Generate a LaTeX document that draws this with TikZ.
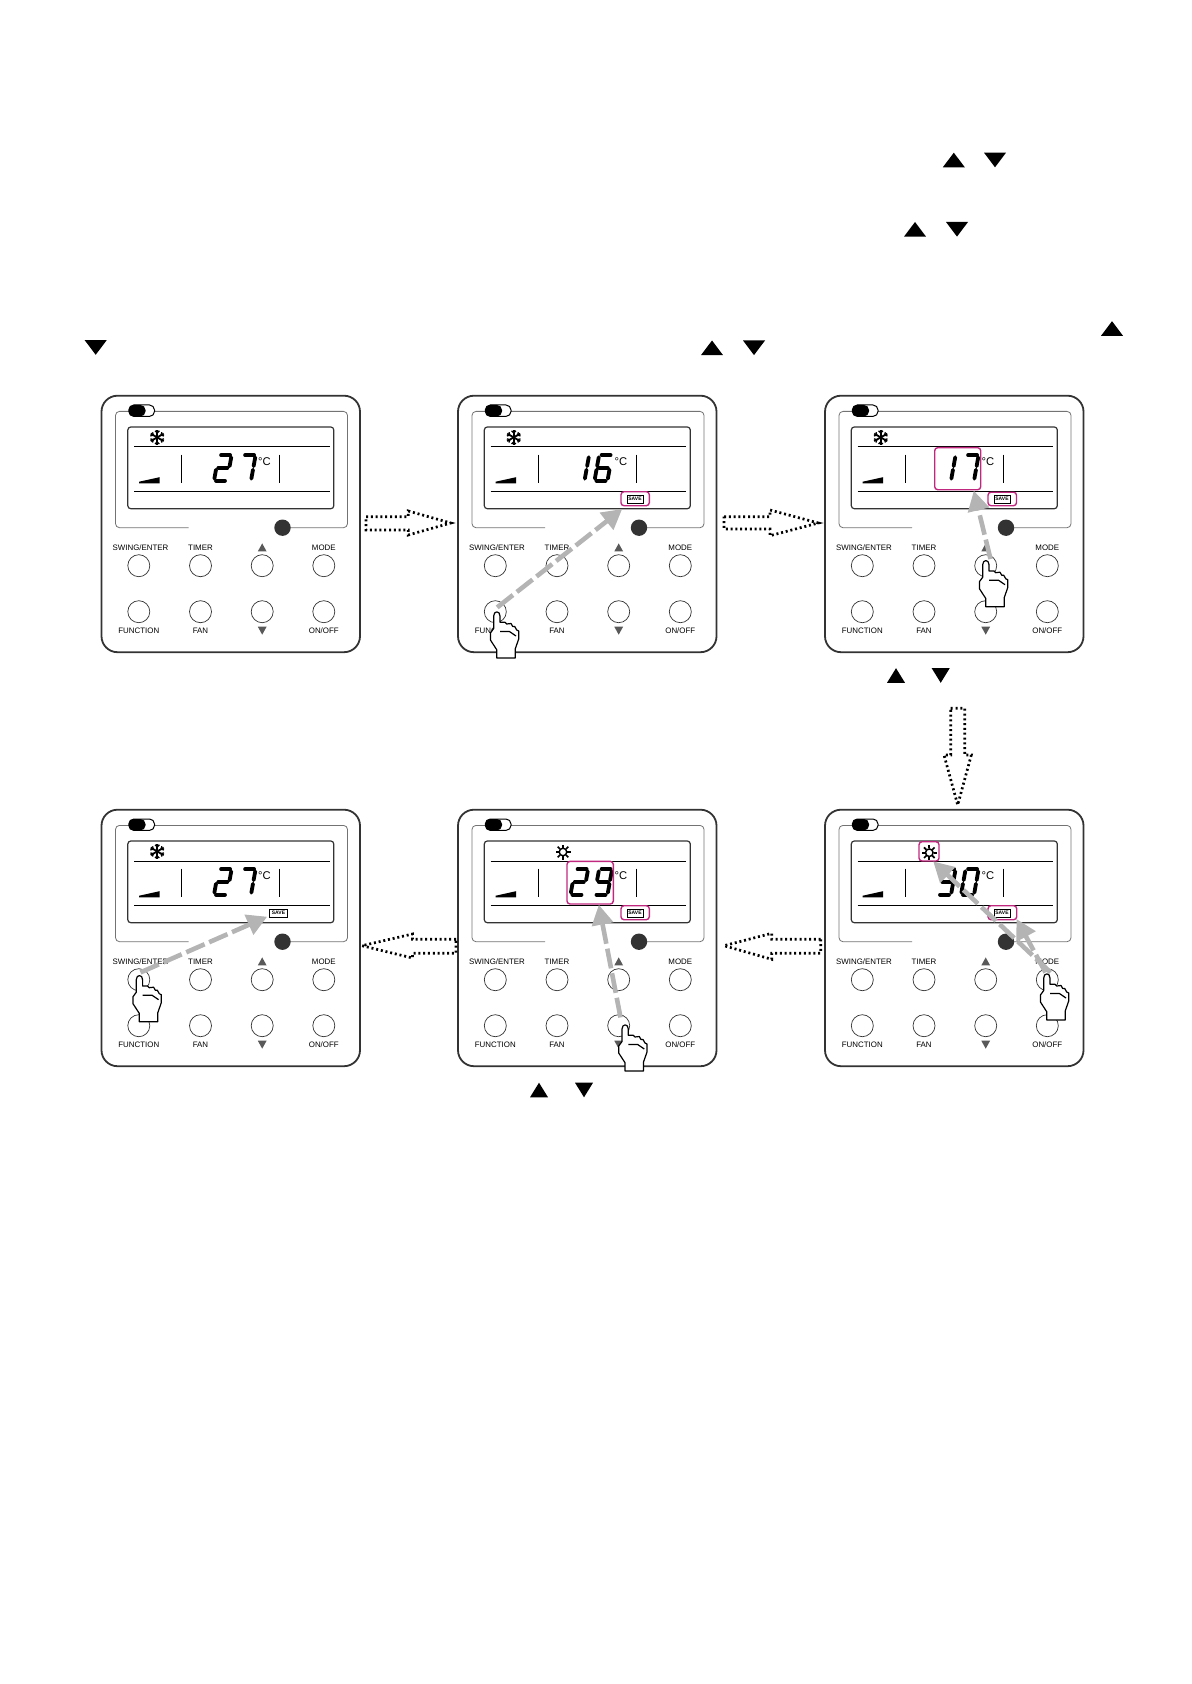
\documentclass[tikz,border=0pt]{standalone}
\usepackage{fontspec}
\setmainfont{Liberation Sans}
\usetikzlibrary{arrows.meta}
\definecolor{pinkbox}{HTML}{C0287F}
\definecolor{greyarrow}{HTML}{B4B4B4}
\definecolor{panelline}{HTML}{333333}
\tikzset{
  btn/.style={draw=panelline,line width=.35pt,fill=white,circle,inner sep=0pt,minimum size=11pt},
  btnlabel/.style={inner sep=0pt,font=\fontsize{3.95}{5}\selectfont,text=black},
  markgrey/.style={fill=black!65,draw=none},
  lcdseg/.style={line width=1.9pt,line cap=round},
  sega/.style={insert path={(2.5,-25.5)--(11.5,-25.5)}},
  segb/.style={insert path={(13,-23.5)--(13,-14.5)}},
  segc/.style={insert path={(13,-11)--(13,-2)}},
  segd/.style={insert path={(2,0)--(11,0)}},
  sege/.style={insert path={(0,-11)--(0,-2)}},
  segf/.style={insert path={(0,-23.5)--(0,-14.5)}},
  segg/.style={insert path={(2,-12.75)--(11,-12.75)}},
  pinkframe/.style={draw=pinkbox,line width=.7pt,rounded corners=1.5pt},
  savebox/.style={draw=black,line width=.35pt,inner sep=0pt,minimum width=8pt,minimum height=4pt,
    fill=white,font=\fontsize{2.5}{3}\selectfont\bfseries},
  celsius/.style={inner sep=0pt,font=\fontsize{5.6}{6}\selectfont},
  dotarrow/.style={draw=black,line width=1.35pt,dash pattern=on 1pt off 1.4pt},
  pressarrow/.style={draw=greyarrow,line width=2.3pt,dash pattern=on 10pt off 2.5pt,
    -{Triangle[length=10pt,width=10.5pt,fill=greyarrow]}},
  panel/.pic={
    % case and frame
    \draw[panelline,line width=.9pt,rounded corners=8pt] (0,0) rectangle (258.5,256.5);
    \draw[black!55,line width=.4pt,rounded corners=2pt] (53,15.7) -- (246,15.7) -- (246,132) -- (181,132);
    \draw[black!55,line width=.4pt,rounded corners=2pt] (27.3,15.7) -- (14,15.7) -- (14,132) -- (87,132);
    \draw[black,line width=.5pt,fill=white,rounded corners=2.5pt] (27.3,9.3) rectangle (53,20.7);
    \fill[black,rounded corners=2.5pt] (27.3,9.3) rectangle (44,20.7);
    \fill[panelline] (181,132) circle (4.1pt);
    % display
    \draw[panelline,line width=.6pt,rounded corners=1.5pt] (26.3,31.3) rectangle (232.3,113);
    \draw[line width=.5pt] (32.5,51.3) -- (228,51.3);
    \draw[line width=.5pt] (32.5,95.3) -- (228,95.3);
    \draw[line width=.5pt] (80.3,59) -- (80.3,87.7);
    \draw[line width=.5pt] (178.3,59) -- (178.3,87.7);
    \fill (37.7,87.7) -- (37.7,86) -- (58,81.5) -- (58,87.7) -- cycle;
    \node[celsius] (deg) at (163,65.5) {°C};
    % buttons
    \foreach \i/\x/\lx/\toptext/\bottext in {1/37.3/39/SWING\slash ENTER/FUNCTION,2/99/99/TIMER/FAN,3/160.7/160.7//,4/222.3/222.3/MODE/ON\slash OFF} {
      \node[btn] (top\i) at (\x,170) {};
      \node[btn] (bot\i) at (\x,216) {};
      \node[btnlabel] (toplab\i) at (\lx,151.7) {\toptext};
      \node[btnlabel] (botlab\i) at (\x,235) {\bottext};
    }
    \fill[markgrey] (156.3,155.7) -- (165.1,155.7) -- (160.7,147.7) -- cycle;
    \fill[markgrey] (156.3,231) -- (165.1,231) -- (160.7,239) -- cycle;
  },
  hand/.pic={
    \draw[black,line width=.6pt,fill=white,line join=round]
      (-3,4) .. controls (-3,-1.5) and (3.3,-1.5) .. (3.3,4) -- (3.3,10.3) -- (8.3,10.3)
      -- (10,12) -- (14.3,11.5) -- (16,14.5) -- (18,14.5) -- (20,18) -- (22,19) -- (22,27)
      -- (18.5,37) -- (18.5,46) -- (0,46) -- (0,37.7) -- (-6.3,28) -- (-6.3,21) -- (-3,16.5) -- cycle;
    \draw[black,line width=.6pt] (3.3,19.5) -- (12.7,19.5) -- (19.3,24);
  },
}
\newcommand{\lcddigit}[3]{%
  \begin{scope}[shift={(#1,#2)},xslant=.18]
    \foreach \s in {#3} {\draw[lcdseg,seg\s];}
  \end{scope}}
\newcommand{\snowicon}[2]{%
  \begin{scope}[shift={(#1,#2)}]
    \foreach \a in {30,90,150,210,270,330} {
      \draw[line width=.9pt] (0,0) -- (\a:7.5);
      \draw[line width=.65pt] (\a:4.5) -- ++(\a+45:3);
      \draw[line width=.65pt] (\a:4.5) -- ++(\a-45:3);
    }
  \end{scope}}
\newcommand{\sunicon}[2]{%
  \begin{scope}[shift={(#1,#2)}]
    \draw[line width=.75pt] (0,0) circle (1.9pt);
    \foreach \a in {0,45,...,315} {\draw[line width=.85pt] (\a:4.3) -- (\a:7.5);}
  \end{scope}}
\newcommand{\upmark}[3][11]{\fill (#2,#3) ++(-#1,7.3) -- ++(2*#1,0) -- ++(-#1,-14.6) -- cycle;}
\newcommand{\downmark}[3][11]{\fill (#2,#3) ++(-#1,-7.3) -- ++(2*#1,0) -- ++(-#1,14.6) -- cycle;}
\begin{document}
\begin{tikzpicture}[x=.5pt,y=-.5pt]
  \useasboundingbox (0,0) rectangle (1191,1684);
  % marks in the text
  \upmark{953.8}{160} \downmark{995}{160}
  \upmark{915}{229.3} \downmark{957}{229.3}
  \upmark{1112}{328.5}
  \downmark{95.7}{347.5} \upmark{712}{347.8} \downmark{754}{347.8}
  \upmark[9]{896}{675.5} \downmark[9]{940.7}{675.5}
  \upmark[9]{539}{1090} \downmark[9]{584}{1090}

  % first row
  \pic (pa) at (101.5,395.7) {panel};
  \begin{scope}[shift={(101.5,395.7)}]
    \snowicon{55.7}{41.7}
    \lcddigit{112.5}{85}{a,b,g,e,d}
    \lcddigit{136.5}{85}{a,b,c}
  \end{scope}

  \pic (pb) at (458,395.7) {panel};
  \begin{scope}[shift={(458,395.7)}]
    \snowicon{55.7}{41.7}
    \lcddigit{113.5}{85}{b,c}
    \lcddigit{136.5}{85}{a,f,g,e,c,d}
    \node[savebox] (saveb) at (177,103.3) {SAVE};
    \draw[pinkframe] (163,96) rectangle (191.3,110);
    \coordinate (pbfrom) at (39.2,211.7);
    \coordinate (pbto) at (164.2,113.3);
  \end{scope}

  \pic (pc) at (825,395.7) {panel};
  \begin{scope}[shift={(825,395.7)}]
    \snowicon{55.7}{41.7}
    \lcddigit{113}{85}{b,c}
    \lcddigit{136}{85}{a,b,c}
    \draw[pinkframe] (109.7,52) rectangle (155.7,94);
    \node[savebox] (savec) at (177,103.3) {SAVE};
    \draw[pinkframe] (163,96.5) rectangle (191.5,110);
    \coordinate (pcfrom) at (165.5,163.3);
    \coordinate (pcto) at (148.8,95);
  \end{scope}

  % second row
  \pic (pf) at (825,809.7) {panel};
  \begin{scope}[shift={(825,809.7)}]
    \sunicon{104.3}{43}
    \lcddigit{113}{85}{a,b,c,d,g}
    \lcddigit{136}{85}{a,b,c,d,e,f}
    \draw[pinkframe] (94,32) rectangle (114,51.3);
    \node[savebox] (savef) at (177,103.3) {SAVE};
    \draw[pinkframe] (163,96) rectangle (191.7,110);
    \coordinate (pffrom) at (225.5,162.7);
    \coordinate (pfsun) at (108.2,51.7);
    \coordinate (pfalt) at (220.5,162.7);
    \coordinate (pfsave) at (191.5,109.3);
  \end{scope}

  \pic (pe) at (458,809.7) {panel};
  \begin{scope}[shift={(458,809.7)}]
    \sunicon{105}{42.3}
    \lcddigit{112.5}{85}{a,b,g,e,d}
    \lcddigit{136.5}{85}{a,b,c,d,f,g}
    \draw[pinkframe] (109,51.7) rectangle (155.3,94.3);
    \node[savebox] (savee) at (177,103.3) {SAVE};
    \draw[pinkframe] (163,96) rectangle (191.3,110);
    \coordinate (pefrom) at (162.5,207.7);
    \coordinate (peto) at (140.8,95);
  \end{scope}

  \pic (pd) at (101.5,809.7) {panel};
  \begin{scope}[shift={(101.5,809.7)}]
    \snowicon{55.7}{41.7}
    \lcddigit{112.5}{85}{a,b,g,e,d}
    \lcddigit{136.5}{85}{a,b,c}
    \node[savebox,minimum width=9pt] (saved) at (177,103.3) {SAVE};
    \coordinate (pdfrom) at (39,162.7);
    \coordinate (pdto) at (165.7,107);
  \end{scope}

  % arrows between the panels
  \draw[dotarrow] (366,516.7) -- (408.3,516.7) -- (408.3,511) -- (450.7,523) -- (408.3,535) -- (408.3,530) -- (366,530) -- cycle;
  \draw[dotarrow] (724,516.7) -- (770,516.7) -- (770,510) -- (818.3,523) -- (770,535.7) -- (770,529) -- (724,529) -- cycle;
  \draw[dotarrow] (950.7,708.3) -- (964.7,708.3) -- (964.7,755) -- (971.3,755) -- (957.7,805) -- (944,755) -- (950.7,755) -- cycle;
  \draw[dotarrow] (820.7,939.3) -- (771.7,939.3) -- (771.7,933.3) -- (724,945.7) -- (771.7,959.3) -- (771.7,953.3) -- (820.7,953.3) -- cycle;
  \draw[dotarrow] (456,939.3) -- (412.5,939.3) -- (412.5,934) -- (362,945.7) -- (412.5,958) -- (412.5,953.3) -- (456,953.3) -- cycle;

  % pressing
  \draw[pressarrow] (pbfrom) -- (pbto);
  \draw[pressarrow] (pcfrom) -- (pcto);
  \draw[pressarrow] (pffrom) -- (pfsun);
  \draw[pressarrow] (pfalt) -- (pfsave);
  \draw[pressarrow] (pefrom) -- (peto);
  \draw[pressarrow] (pdfrom) -- (pdto);

  \pic (handb) at (496.7,612) {hand};
  \pic (handc) at (985.7,560.7) {hand};
  \pic (handf) at (1046.7,974) {hand};
  \pic (hande) at (625,1025) {hand};
  \pic (handd) at (139.3,975.7) {hand};
\end{tikzpicture}
\end{document}
